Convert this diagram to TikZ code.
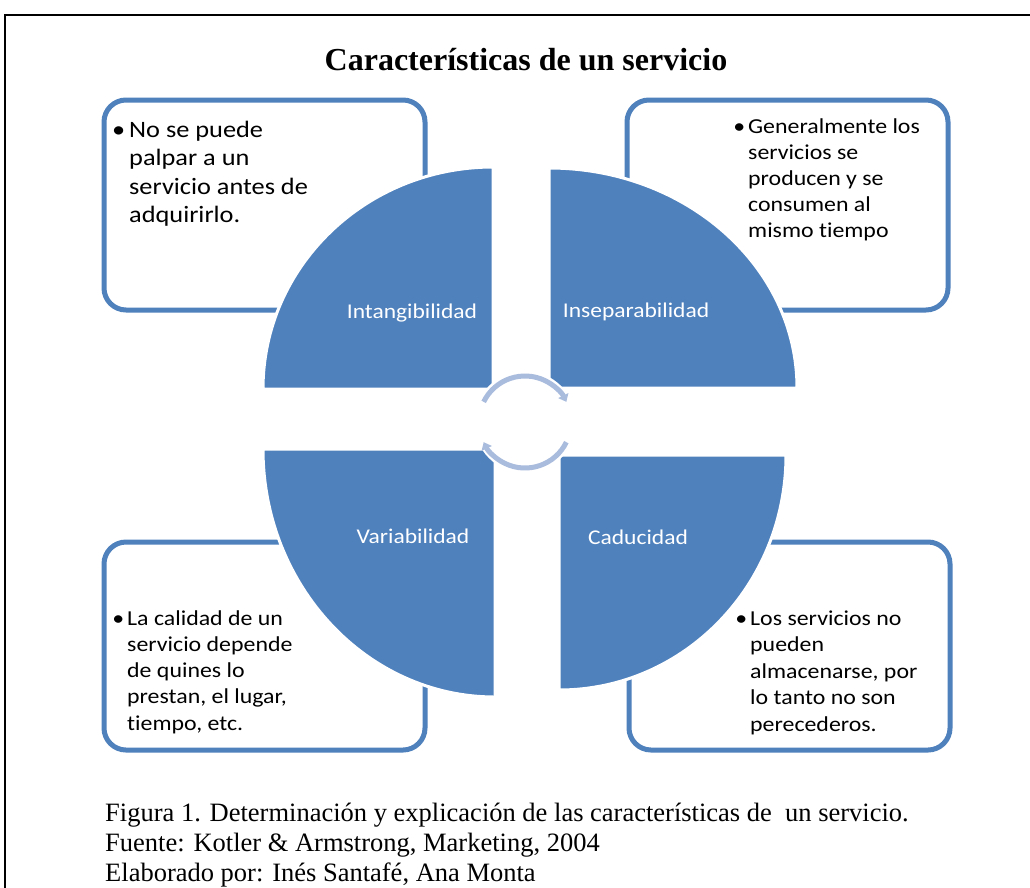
\documentclass[tikz,border=0pt]{standalone}
\usepackage{fontspec}
\usetikzlibrary{arrows.meta}
\newfontfamily\calfont[FakeStretch=1.12, Ligatures=NoCommon]{Carlito}
\newfontfamily\tnrfont{Liberation Serif}
\definecolor{qblue}{HTML}{4F81BD}
\definecolor{arrowblue}{HTML}{A9BCDD}
\begin{document}
\begin{tikzpicture}[x=1pt,y=-1pt,
  box/.style={draw=qblue, line width=5pt, rounded corners=22pt, inner sep=0pt, outer sep=0pt},
  quad/.style={fill=qblue, draw=white, line width=3pt},
  boxtext/.style={anchor=base west, inner sep=0pt, align=left, text=black},
  qlabel/.style={anchor=base, inner sep=0pt, text=white, font=\calfont\fontsize{21}{25}\selectfont},
  cyc/.style={draw=arrowblue, line width=5pt, -{Triangle[length=7pt,width=11pt]}},
  halo/.style={draw=white, line width=10pt}
]
\useasboundingbox (0,0) rectangle (1030,887);
\clip (0,0) rectangle (1030,887);
\fill[white] (0,0) rectangle (1030,887);
\draw[line width=2pt] (5,900) -- (5,15) -- (1040,15);

% title
\node[anchor=base, inner sep=0pt, font=\tnrfont\bfseries\fontsize{32}{38}\selectfont] (title) at (526,70) {Características de un servicio};

% boxes
\node[box, minimum width=321pt, minimum height=210pt, anchor=north west] (b1) at (104,100) {};
\node[box, minimum width=321pt, minimum height=210pt, anchor=north west] (b2) at (627,100) {};
\node[box, minimum width=321pt, minimum height=208pt, anchor=north west] (b3) at (104,542) {};
\node[box, minimum width=321pt, minimum height=208pt, anchor=north west] (b4) at (629,542) {};

% quadrants
\path[quad] (493,389) -- (263,389) arc[start angle=180, end angle=270, x radius=230, y radius=222] -- cycle;
\path[quad] (549,388) -- (549,168) arc[start angle=270, end angle=360, x radius=248, y radius=220] -- cycle;
\path[quad] (495,449) -- (263,449) arc[start angle=180, end angle=90, x radius=232, y radius=248] -- cycle;
\path[quad] (559,455) -- (786,455) arc[start angle=0, end angle=90, x radius=227, y radius=235] -- cycle;

% quadrant labels
\node[qlabel] (q1) at (412,318) {Intangibilidad};
\node[qlabel] (q2) at (636,317) {Inseparabilidad};
\node[qlabel] (q3) at (413,543) {Variabilidad};
\node[qlabel] (q4) at (638,544) {Caducidad};

% cycle arrows
\coordinate (c) at (525,422);
\draw[halo] (c) ++(203:46) arc[start angle=203, end angle=337, radius=46];
\draw[halo] (c) ++(23:46) arc[start angle=23, end angle=157, radius=46];
\draw[cyc] (c) ++(206:46) arc[start angle=206, end angle=334, radius=46];
\draw[cyc] (c) ++(26:46) arc[start angle=26, end angle=154, radius=46];

% box texts (anchor = baseline of last line)
\node[boxtext, font=\calfont\fontsize{23.5}{28.5}\selectfont] (t1) at (129,222.5)
  {\llap{•\hspace{4pt}}No se puede\\palpar a un\\servicio antes de\\adquirirlo.};
\node[boxtext, font=\calfont\fontsize{21.3}{26}\selectfont] (t2) at (748,237)
  {\llap{•\hspace{3pt}}Generalmente los\\servicios se\\producen y se\\consumen al\\mismo tiempo};
\node[boxtext, font=\calfont\fontsize{21.3}{26.2}\selectfont] (t3) at (127,730)
  {\llap{•\hspace{3pt}}La calidad de un\\servicio depende\\de quines lo\\prestan, el lugar,\\tiempo, etc.};
\node[boxtext, font=\calfont\fontsize{21.3}{26.5}\selectfont] (t4) at (750,731)
  {\llap{•\hspace{3pt}}Los servicios no\\pueden\\almacenarse, por\\lo tanto no son\\perecederos.};

% caption
\node[boxtext, font=\tnrfont\fontsize{26.5}{30}\selectfont] (cap) at (105,881)
  {Figura 1. Determinación y explicación de las características de\ \ un servicio.\\Fuente: Kotler \& Armstrong, Marketing, 2004\\Elaborado por: Inés Santafé, Ana Monta};
\end{tikzpicture}
\end{document}
